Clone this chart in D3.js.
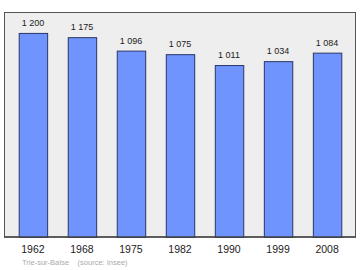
<!DOCTYPE html>
<html>
<head>
<meta charset="utf-8">
<script src="https://cdn.jsdelivr.net/npm/d3@7"></script>
<style>
  body { margin: 0; background: #fff; }
  text { font-family: "Liberation Sans", Arial, sans-serif; }
</style>
</head>
<body>
<div class="canvas"></div>
<script>
const years = ['1962', '1968', '1975', '1982', '1990', '1999', '2008'];
const population = [1200, 1175, 1096, 1075, 1011, 1034, 1084];
const labels = ['1 200', '1 175', '1 096', '1 075', '1 011', '1 034', '1 084'];

const svg = d3.select('.canvas')
  .append('svg')
    .attr('width', 360)
    .attr('height', 270);

const x = d3.scaleBand()
  .domain(years)
  .range([4, 356])
  .paddingInner(0.42)
  .paddingOuter(0.3);

const y = d3.scaleLinear()
  .domain([0, 1323])
  .range([237, 12]);

// plot background
svg.append('rect')
  .attr('x', 4.5)
  .attr('y', 12.5)
  .attr('width', 351)
  .attr('height', 224.5)
  .attr('fill', '#eeeeee')
  .attr('stroke', '#555')
  .attr('stroke-width', 1);

svg.selectAll('rect.bar')
  .data(population)
  .enter()
  .append('rect')
    .attr('class', 'bar')
    .attr('x', (d, i) => x(years[i]) + 0.5)
    .attr('y', d => y(d) + 0.5)
    .attr('width', x.bandwidth())
    .attr('height', d => 237 - y(d))
    .attr('fill', '#7094fe')
    .attr('stroke', '#2a3566')
    .attr('stroke-width', 1);

svg.selectAll('text.val')
  .data(population)
  .enter()
  .append('text')
    .attr('class', 'val')
    .attr('x', (d, i) => x(years[i]) + x.bandwidth() / 2)
    .attr('y', d => y(d) - 7)
    .attr('text-anchor', 'middle')
    .attr('font-size', 9)
    .attr('fill', '#222')
    .text((d, i) => labels[i]);

// bottom axis line
svg.append('line')
  .attr('x1', 4).attr('x2', 356)
  .attr('y1', 237).attr('y2', 237)
  .attr('stroke', '#444')
  .attr('stroke-width', 1.5);

svg.selectAll('text.year')
  .data(years)
  .enter()
  .append('text')
    .attr('class', 'year')
    .attr('x', d => x(d) + x.bandwidth() / 2)
    .attr('y', 253)
    .attr('text-anchor', 'middle')
    .attr('font-size', 10.5)
    .attr('fill', '#222')
    .text(d => d);

svg.append('text')
  .attr('x', 22)
  .attr('y', 265)
  .attr('font-size', 7.5)
  .attr('fill', '#aaa')
  .style('white-space', 'pre')
  .text('Trie-sur-Baïse    (source: Insee)');
</script>
</body>
</html>
